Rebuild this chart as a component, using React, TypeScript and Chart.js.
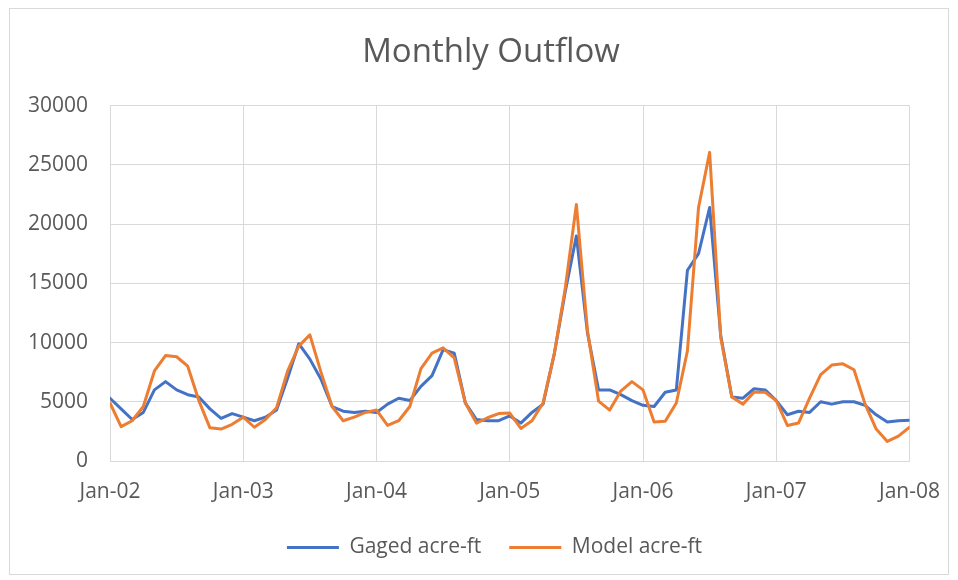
import React, { useEffect, useRef } from "react";
import { Chart, registerables } from "chart.js";

Chart.register(...registerables);

// Monthly points, Jan-02 .. Jan-08 (73 months)
const yearTickLabels = ["Jan-02", "Jan-03", "Jan-04", "Jan-05", "Jan-06", "Jan-07", "Jan-08"];
const monthsPerTick = 12;

const gagedAcreFt = [
  5300, 4400, 3500, 4100, 6000, 6700, 6000, 5600, 5400, 4400, 3600, 4000,
  3700, 3400, 3700, 4300, 7000, 9900, 8600, 6900, 4600, 4200, 4100, 4200,
  4100, 4800, 5300, 5100, 6300, 7200, 9400, 9100, 4900, 3500, 3400, 3400,
  3800, 3200, 4100, 4800, 9000, 14300, 19000, 10800, 6000, 6000, 5600, 5100,
  4700, 4600, 5800, 6000, 16100, 17500, 21400, 10600, 5400, 5300, 6100, 6000,
  5100, 3900, 4200, 4100, 5000, 4800, 5000, 5000, 4700, 3900, 3300, 3400,
  3450,
];

const modelAcreFt = [
  4900, 2900, 3400, 4600, 7600, 8900, 8800, 8000, 5100, 2800, 2700, 3100,
  3700, 2850, 3500, 4500, 7600, 9700, 10650, 7500, 4600, 3400, 3700, 4100,
  4300, 3000, 3400, 4600, 7800, 9100, 9550, 8700, 4900, 3200, 3650, 4000,
  4050, 2750, 3400, 4900, 9000, 14600, 21650, 11000, 5050, 4300, 5900, 6700,
  6000, 3300, 3350, 4900, 9300, 21400, 26050, 10400, 5400, 4800, 5800, 5800,
  5100, 3000, 3200, 5300, 7300, 8100, 8200, 7700, 4800, 2700, 1650, 2100,
  2850,
];

const seriesNames = ["Gaged acre-ft", "Model acre-ft"];
const yMin = 0;
const yMax = 30000;
const yStep = 5000;

const FONT = "'Open Sans', 'Noto Sans', sans-serif";
const TEXT = "#595959";
const GRID = "#d9d9d9";

const framePlugin = {
  id: "frame",
  beforeDraw(chart: any) {
    const ctx = chart.ctx;
    ctx.save();
    ctx.fillStyle = "#ffffff";
    ctx.fillRect(0, 0, chart.width, chart.height);
    ctx.strokeStyle = GRID;
    ctx.lineWidth = 1;
    ctx.strokeRect(9.5, 8.5, 939, 566);
    ctx.restore();
  },
};

// Centre title and legend the way the reference does (over the frame, not the padded box)
const centerBlocksPlugin = {
  id: "centerBlocks",
  afterLayout(chart: any) {
    if (chart.titleBlock) {
      chart.titleBlock.left = 71;
      chart.titleBlock.right = 911;
    }
    if (chart.legend) {
      chart.legend.left = 78;
      chart.legend.right = 911;
    }
  },
};

export default function App() {
  const ref = useRef<HTMLCanvasElement | null>(null);

  useEffect(() => {
    document.body.style.margin = "0";
    const canvas = ref.current;
    if (!canvas) return;
    const chart = new Chart(canvas, {
      type: "line",
      data: {
        datasets: [
          {
            label: seriesNames[0],
            data: gagedAcreFt.map((v, i) => ({ x: i, y: v })),
            borderColor: "#4472C4",
            backgroundColor: "#4472C4",
            borderWidth: 3,
            pointRadius: 0,
            tension: 0,
            borderJoinStyle: "round",
            borderCapStyle: "round",
            order: 2,
          },
          {
            label: seriesNames[1],
            data: modelAcreFt.map((v, i) => ({ x: i, y: v })),
            borderColor: "#ED7D31",
            backgroundColor: "#ED7D31",
            borderWidth: 3,
            pointRadius: 0,
            tension: 0,
            borderJoinStyle: "round",
            borderCapStyle: "round",
            order: 1,
          },
        ],
      },
      options: {
        responsive: false,
        animation: false,
        layout: { padding: { left: 10, right: 47, top: 8, bottom: 12 } },
        plugins: {
          title: {
            display: true,
            text: "Monthly Outflow",
            color: TEXT,
            font: { family: FONT, size: 33, weight: "normal" },
            padding: { top: 25, bottom: 33 },
          },
          legend: {
            position: "bottom",
            labels: {
              color: TEXT,
              font: { family: FONT, size: 21 },
              usePointStyle: true,
              pointStyle: "line",
              pointStyleWidth: 52,
              boxHeight: 21,
              padding: 28,
              sort: (a: any, b: any) => a.datasetIndex - b.datasetIndex,
            },
          },
          tooltip: { enabled: false },
        },
        scales: {
          x: {
            type: "linear",
            min: 0,
            max: (yearTickLabels.length - 1) * monthsPerTick,
            afterBuildTicks: (scale: any) => {
              scale.ticks = yearTickLabels.map((_, k) => ({ value: k * monthsPerTick }));
            },
            ticks: {
              color: TEXT,
              font: { family: FONT, size: 21 },
              padding: 18,
              maxRotation: 0,
              autoSkip: false,
              callback: (v: any) => yearTickLabels[Math.round(Number(v) / monthsPerTick)] ?? "",
            },
            grid: { color: GRID, lineWidth: 1, drawTicks: false },
            border: { color: GRID },
            afterFit: (s: any) => {
              s.height = 48;
            },
          },
          y: {
            min: yMin,
            max: yMax,
            ticks: {
              stepSize: yStep,
              color: TEXT,
              font: { family: FONT, size: 21 },
              padding: 22,
              callback: (v: any) => String(v),
            },
            grid: { color: GRID, lineWidth: 1, drawTicks: false },
            border: { display: false },
            afterFit: (s: any) => {
              s.width = 100;
            },
          },
        },
      },
      plugins: [framePlugin, centerBlocksPlugin],
    } as any);
    return () => chart.destroy();
  }, []);

  return <canvas ref={ref} width={958} height={580} style={{ display: "block" }} />;
}
